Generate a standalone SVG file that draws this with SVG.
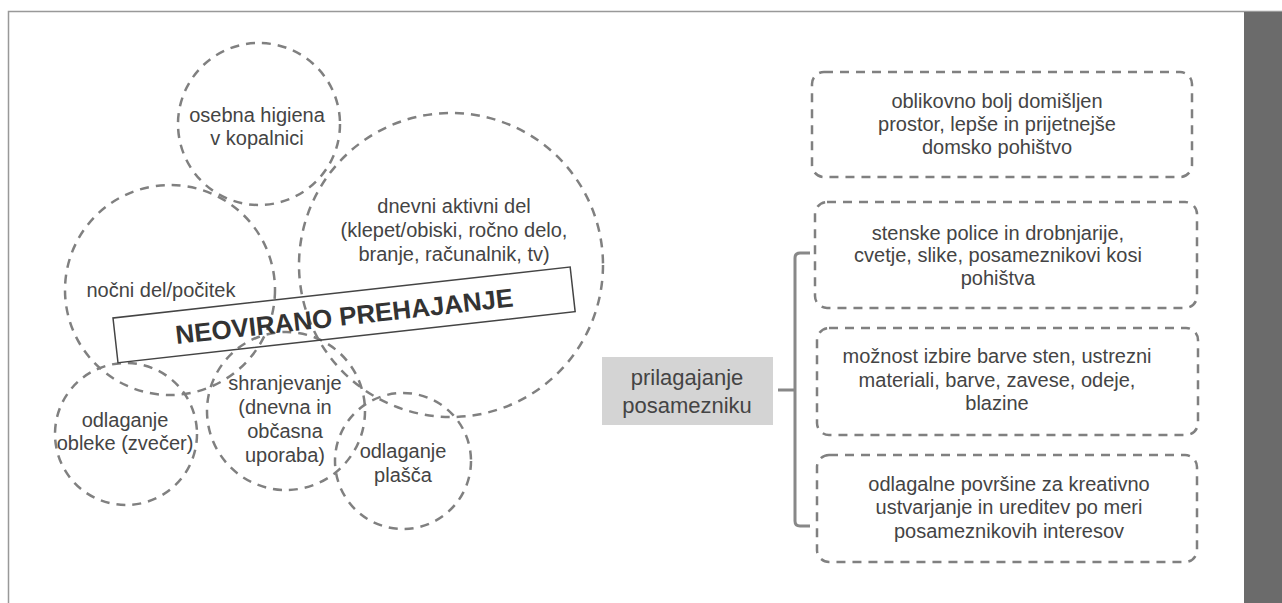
<svg xmlns="http://www.w3.org/2000/svg" width="1282" height="603" viewBox="0 0 1282 603">
<style>
.dash{fill:none;stroke:#808080;stroke-width:2.5;stroke-dasharray:9 7}
.t{font-family:"Liberation Sans",Arial,sans-serif;font-size:20px;fill:#444;text-anchor:middle}
.tb{font-family:"Liberation Sans",Arial,sans-serif;font-size:22px;fill:#444;text-anchor:middle}
.big{font-family:"Liberation Sans",Arial,sans-serif;font-size:26px;font-weight:bold;fill:#333;text-anchor:middle}
</style>
<rect x="0" y="0" width="1282" height="603" fill="#fff"/>
<path d="M8.5,603 V11.5 H1282" fill="none" stroke="#999" stroke-width="1.5"/>
<rect x="1244" y="12" width="38" height="591" fill="#6b6b6b"/>

<g id="node-higiena">
<circle class="dash" cx="259" cy="124" r="81"/>
<text class="t" x="257" y="122">osebna higiena</text>
<text class="t" x="257" y="145">v kopalnici</text>
</g>
<g id="node-dnevni">
<circle class="dash" cx="451" cy="265" r="152"/>
<text class="t" x="454" y="213">dnevni aktivni del</text>
<text class="t" x="454" y="237">(klepet/obiski, ročno delo,</text>
<text class="t" x="454" y="261">branje, računalnik, tv)</text>
</g>
<g id="node-nocni">
<circle class="dash" cx="170" cy="290" r="105"/>
<text class="t" x="161" y="297">nočni del/počitek</text>
</g>
<g id="node-obleke">
<circle class="dash" cx="126" cy="434" r="71"/>
<text class="t" x="125" y="427">odlaganje</text>
<text class="t" x="125" y="450">obleke (zvečer)</text>
</g>
<g id="node-shranjevanje">
<circle class="dash" cx="286" cy="411" r="79"/>
<text class="t" x="285" y="390">shranjevanje</text>
<text class="t" x="285" y="414">(dnevna in</text>
<text class="t" x="285" y="438">občasna</text>
<text class="t" x="285" y="462">uporaba)</text>
</g>
<g id="node-plasca">
<circle class="dash" cx="403" cy="461" r="68"/>
<text class="t" x="403" y="458">odlaganje</text>
<text class="t" x="403" y="482">plašča</text>
</g>
<g id="node-prehajanje" transform="translate(113,318) rotate(-6.37)">
<rect x="0" y="0" width="460" height="45" fill="none" stroke="#444" stroke-width="1.5"/>
<text class="big" x="230" y="33">NEOVIRANO PREHAJANJE</text>
</g>

<g id="node-prilagajanje">
<rect x="602" y="357" width="171" height="68" fill="#d4d4d4"/>
<text class="tb" x="687" y="385">prilagajanje</text>
<text class="tb" x="687" y="413">posamezniku</text>
</g>

<g id="connectors">
<path d="M810,253 H800 Q795,253 795,258 V521 Q795,526 800,526 H810 M778,390 H795" fill="none" stroke="#888" stroke-width="3"/>
</g>

<g id="node-box1">
<rect class="dash" x="812" y="72" width="380" height="105" rx="12"/>
<text class="t" x="997" y="108">oblikovno bolj domišljen</text>
<text class="t" x="997" y="131">prostor, lepše in prijetnejše</text>
<text class="t" x="997" y="154">domsko pohištvo</text>
</g>
<g id="node-box2">
<rect class="dash" x="815" y="202" width="382" height="106" rx="12"/>
<text class="t" x="998" y="240">stenske police in drobnjarije,</text>
<text class="t" x="998" y="262">cvetje, slike, posameznikovi kosi</text>
<text class="t" x="998" y="285">pohištva</text>
</g>
<g id="node-box3">
<rect class="dash" x="817" y="328" width="381" height="107" rx="12"/>
<text class="t" x="997" y="363">možnost izbire barve sten, ustrezni</text>
<text class="t" x="997" y="387">materiali, barve, zavese, odeje,</text>
<text class="t" x="997" y="410">blazine</text>
</g>
<g id="node-box4">
<rect class="dash" x="817" y="455" width="380" height="107" rx="12"/>
<text class="t" x="1009" y="491">odlagalne površine za kreativno</text>
<text class="t" x="1009" y="514">ustvarjanje in ureditev po meri</text>
<text class="t" x="1009" y="538">posameznikovih interesov</text>
</g>
</svg>
